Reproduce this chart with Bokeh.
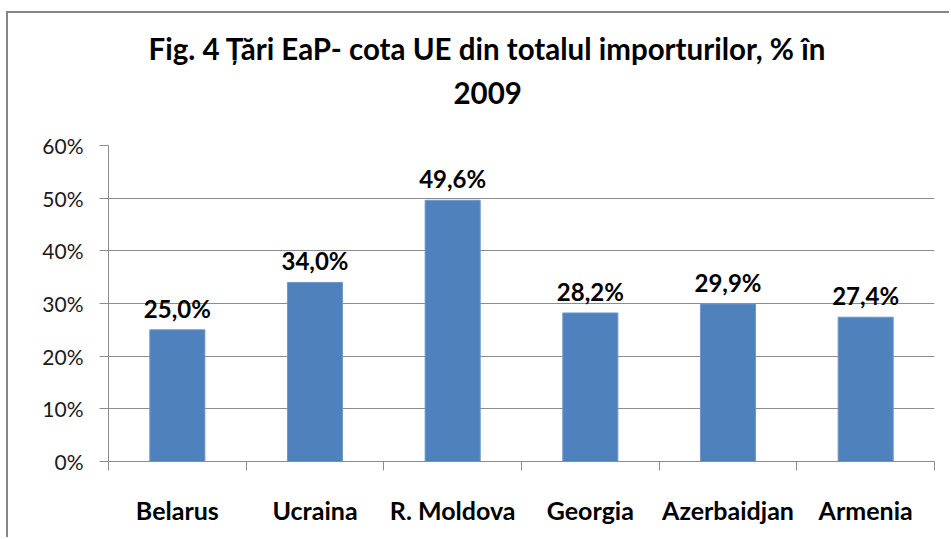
import numpy as np
from bokeh.plotting import figure
from bokeh.models import (ColumnDataSource, FixedTicker, NumeralTickFormatter,
                          CustomJSTickFormatter, Range1d, LabelSet, Title)
from bokeh.core.properties import value
from bokeh.embed import file_html
from bokeh.resources import INLINE

# ---- data ----
categories = ["Belarus", "Ucraina", "R. Moldova", "Georgia", "Azerbaidjan", "Armenia"]
values = [0.250, 0.340, 0.496, 0.282, 0.299, 0.274]
value_labels = ["25,0%", "34,0%", "49,6%", "28,2%", "29,9%", "27,4%"]
y_ticks = [0.0, 0.1, 0.2, 0.3, 0.4, 0.5, 0.6]
title_line1 = "Fig. 4 Țări EaP- cota UE din totalul importurilor, % în"
title_line2 = "2009"

FONT = "Lato"
BAR = "#4F81BD"
GRID = "#8c8c8c"

xpos = np.arange(len(categories)) + 0.5
src = ColumnDataSource(dict(x=xpos, top=values, lab=value_labels))

p = figure(width=943, height=526, output_backend="svg", toolbar_location=None,
           x_range=Range1d(0, len(categories)), y_range=Range1d(0, 0.6),
           min_border_left=100, min_border_right=17, min_border_top=132,
           min_border_bottom=78, tools="", title=None)
p.styles = {"border-top": "2px solid #868686", "border-left": "2px solid #868686",
            "margin-top": "11px", "margin-left": "6px"}

# blank spacer between the frame and the title lines
spacer = Title(text=" ", align="left", standoff=16, text_font=FONT,
               text_font_size="10px", text_color="white")
p.add_layout(spacer, "above")

# title: second line nearer to the frame, first line above it
t2 = Title(text=title_line2, align="left", offset=345, standoff=24,
           text_font=FONT, text_font_style="bold", text_font_size="29.5px",
           text_color="black")
t1 = Title(text=title_line1, align="left", offset=40, standoff=4,
           text_font=FONT, text_font_style="bold", text_font_size="29.5px",
           text_color="black")
p.add_layout(t2, "above")
p.add_layout(t1, "above")

p.outline_line_color = None
p.background_fill_color = "white"
p.border_fill_color = "white"

p.vbar(x="x", top="top", width=0.4, bottom=0, source=src,
       fill_color=BAR, line_color="#6f97c9", line_width=1)

labels = LabelSet(x="x", y="top", text="lab", source=src, text_align="center",
                  text_baseline="alphabetic", y_offset=12,
                  text_font=value(FONT), text_font_style="bold", text_font_size="24px",
                  text_color="black")
p.add_layout(labels)

# y axis
ya = p.yaxis[0]
ya.ticker = FixedTicker(ticks=y_ticks)
ya.formatter = NumeralTickFormatter(format="0%")
ya.axis_line_color = GRID
ya.major_tick_line_color = GRID
ya.major_tick_out = 9
ya.major_tick_in = 0
ya.minor_tick_line_color = None
ya.major_label_text_font = FONT
ya.major_label_text_font_size = "21px"
ya.major_label_text_color = "#1a1a1a"
ya.major_label_standoff = 16

# x axis: labels at centres, tick marks at category boundaries
xa = p.below[0]
xa.ticker = FixedTicker(ticks=list(xpos), minor_ticks=list(range(len(categories) + 1)))
xa.formatter = CustomJSTickFormatter(args=dict(labels=categories),
                                     code="return labels[Math.floor(tick)] || '';")
xa.axis_line_color = GRID
xa.major_tick_line_color = None
xa.major_tick_out = 9
xa.major_tick_in = 0
xa.minor_tick_line_color = GRID
xa.minor_tick_out = 9
xa.minor_tick_in = 0
xa.major_label_text_font = FONT
xa.major_label_text_font_style = "bold"
xa.major_label_text_font_size = "25px"
xa.major_label_text_color = "black"
xa.major_label_standoff = 24

p.xgrid.grid_line_color = None
p.ygrid.ticker = FixedTicker(ticks=y_ticks)
p.ygrid.grid_line_color = GRID
p.ygrid.grid_line_width = 1

open("out.html", "w").write(file_html(p, INLINE))
